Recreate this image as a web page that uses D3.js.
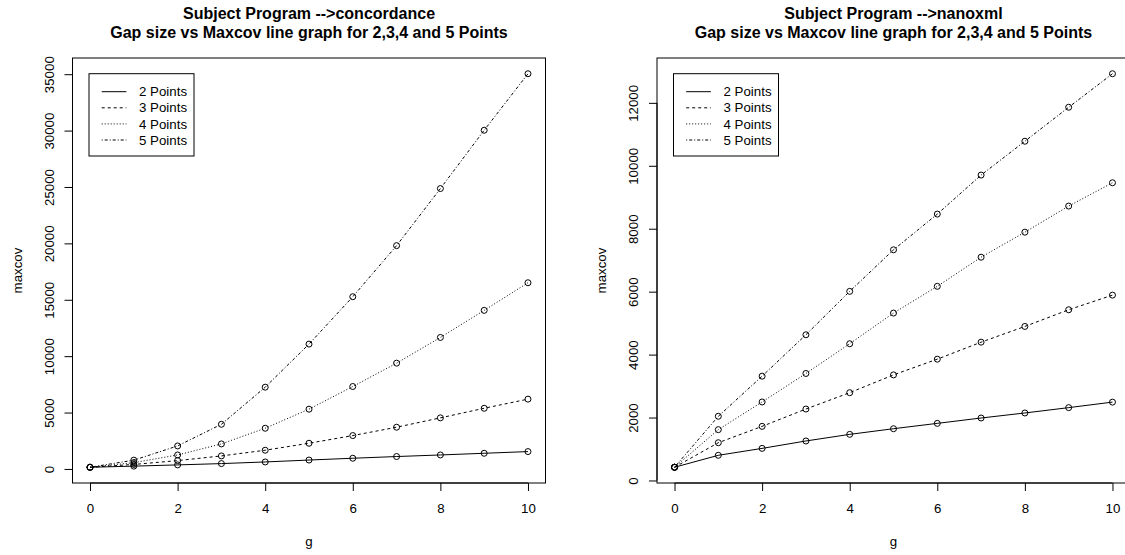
<!DOCTYPE html>
<html>
<head>
<meta charset="utf-8">
<script src="https://cdn.jsdelivr.net/npm/d3@7.9.0/dist/d3.min.js"></script>
<style>
  body { margin: 0; background: #fff; }
  svg { display: block; font-family: "Liberation Sans", Arial, sans-serif; }
</style>
</head>
<body>
<svg id="chart" width="1125" height="555"></svg>
<script>
// gap size on the x axis
const gapSizes = [0, 1, 2, 3, 4, 5, 6, 7, 8, 9, 10];

// concordance
const concordance2 = [150, 250, 360, 475, 620, 790, 950, 1100, 1240, 1390, 1540];
const concordance3 = [150, 400, 740, 1155, 1660, 2280, 2960, 3700, 4530, 5380, 6190];
const concordance4 = [150, 560, 1240, 2220, 3610, 5300, 7310, 9380, 11660, 14060, 16510];
const concordance5 = [150, 780, 2040, 3960, 7250, 11070, 15270, 19800, 24860, 30030, 35040];

// nanoxml
const nanoxml2 = [420, 800, 1020, 1255, 1465, 1645, 1815, 1985, 2145, 2315, 2490];
const nanoxml3 = [420, 1200, 1720, 2270, 2790, 3355, 3855, 4395, 4895, 5425, 5890];
const nanoxml4 = [420, 1615, 2495, 3400, 4345, 5320, 6170, 7095, 7890, 8720, 9460];
const nanoxml5 = [420, 2040, 3315, 4630, 6010, 7330, 8465, 9705, 10780, 11860, 12925];

const seriesLabels = ["2 Points", "3 Points", "4 Points", "5 Points"];
const xTicks = [0, 2, 4, 6, 8, 10];
const concordanceTicks = [0, 5000, 10000, 15000, 20000, 25000, 30000, 35000];
const nanoxmlTicks = [0, 2000, 4000, 6000, 8000, 10000, 12000];

const dashes = [null, "3,3", "1,2", "1,2,3,2"];
const fs = 13.3;

const svg = d3.select("#chart");
svg.append("rect").attr("width", 1125).attr("height", 555).attr("fill", "#fff");

function drawPanel(left, program, series, yTicks) {
  const top = 58, bottom = 483, width = 473;
  const right = left + width;

  const all = series.flat();
  const lo = d3.min(all), hi = d3.max(all);
  const pad = (hi - lo) * 0.04;

  const x = d3.scaleLinear().domain([-0.4, 10.4]).range([left, right]);
  const y = d3.scaleLinear().domain([lo - pad, hi + pad]).range([bottom, top]);

  const g = svg.append("g");

  // lines + points
  series.forEach((vals, i) => {
    const pts = vals.map((v, j) => [gapSizes[j], v]);
    const line = d3.line().x(d => x(d[0])).y(d => y(d[1]));
    g.append("path")
      .attr("d", line(pts))
      .attr("fill", "none")
      .attr("stroke", "#000")
      .attr("stroke-width", 1)
      .attr("stroke-dasharray", dashes[i]);
    g.selectAll(null)
      .data(pts)
      .join("circle")
      .attr("cx", d => x(d[0]))
      .attr("cy", d => y(d[1]))
      .attr("r", 3)
      .attr("fill", "none")
      .attr("stroke", "#000")
      .attr("stroke-width", 1);
  });

  // frame
  g.append("rect")
    .attr("x", left).attr("y", top)
    .attr("width", width).attr("height", bottom - top)
    .attr("fill", "none").attr("stroke", "#000");

  // x axis
  const xAxis = g.append("g")
    .attr("transform", `translate(0,${bottom})`)
    .call(d3.axisBottom(x).tickValues(xTicks).tickSize(8).tickFormat(d3.format("d")));
  xAxis.select(".domain").attr("d", `M${x(0)},0H${x(10)}`);
  xAxis.selectAll("text").attr("y", 29.5).attr("dy", 0).attr("font-size", fs).attr("font-family", null);

  // y axis
  const yAxis = g.append("g")
    .attr("transform", `translate(${left},0)`)
    .call(d3.axisLeft(y).tickValues(yTicks).tickSize(8).tickFormat(d3.format("d")));
  yAxis.select(".domain").attr("d", `M0,${y(yTicks[0])}V${y(yTicks[yTicks.length - 1])}`);
  yAxis.selectAll("text")
    .attr("transform", "rotate(-90)")
    .attr("x", 0).attr("y", -19).attr("dy", 0)
    .attr("text-anchor", "middle")
    .attr("font-size", fs).attr("font-family", null);

  // axis titles
  g.append("text")
    .attr("x", (left + right) / 2).attr("y", 546)
    .attr("text-anchor", "middle").attr("font-size", fs)
    .text("g");
  g.append("text")
    .attr("transform", `translate(${left - 51},${(top + bottom) / 2}) rotate(-90)`)
    .attr("text-anchor", "middle").attr("font-size", fs)
    .text("maxcov");

  // title
  g.append("text")
    .attr("x", (left + right) / 2).attr("y", 19)
    .attr("text-anchor", "middle").attr("font-size", 16).attr("font-weight", "bold")
    .text("Subject Program -->" + program);
  g.append("text")
    .attr("x", (left + right) / 2).attr("y", 38)
    .attr("text-anchor", "middle").attr("font-size", 16).attr("font-weight", "bold")
    .text("Gap size vs Maxcov line graph for 2,3,4 and 5 Points");

  // legend
  const lx = left + 16.5, ly = top + 15.7;
  const legend = g.append("g").attr("transform", `translate(${lx},${ly})`);
  legend.append("rect")
    .attr("width", 105).attr("height", 82.3)
    .attr("fill", "#fff").attr("stroke", "#000");
  seriesLabels.forEach((lab, i) => {
    const ry = 18 + i * 16.1;
    legend.append("line")
      .attr("x1", 12.7).attr("x2", 37.4)
      .attr("y1", ry).attr("y2", ry)
      .attr("stroke", "#000")
      .attr("stroke-dasharray", dashes[i]);
    legend.append("text")
      .attr("x", 50).attr("y", ry)
      .attr("dy", "0.35em")
      .attr("font-size", fs)
      .text(lab);
  });
}

drawPanel(72.5, "concordance",
  [concordance2, concordance3, concordance4, concordance5], concordanceTicks);
drawPanel(657, "nanoxml",
  [nanoxml2, nanoxml3, nanoxml4, nanoxml5], nanoxmlTicks);
</script>
</body>
</html>
